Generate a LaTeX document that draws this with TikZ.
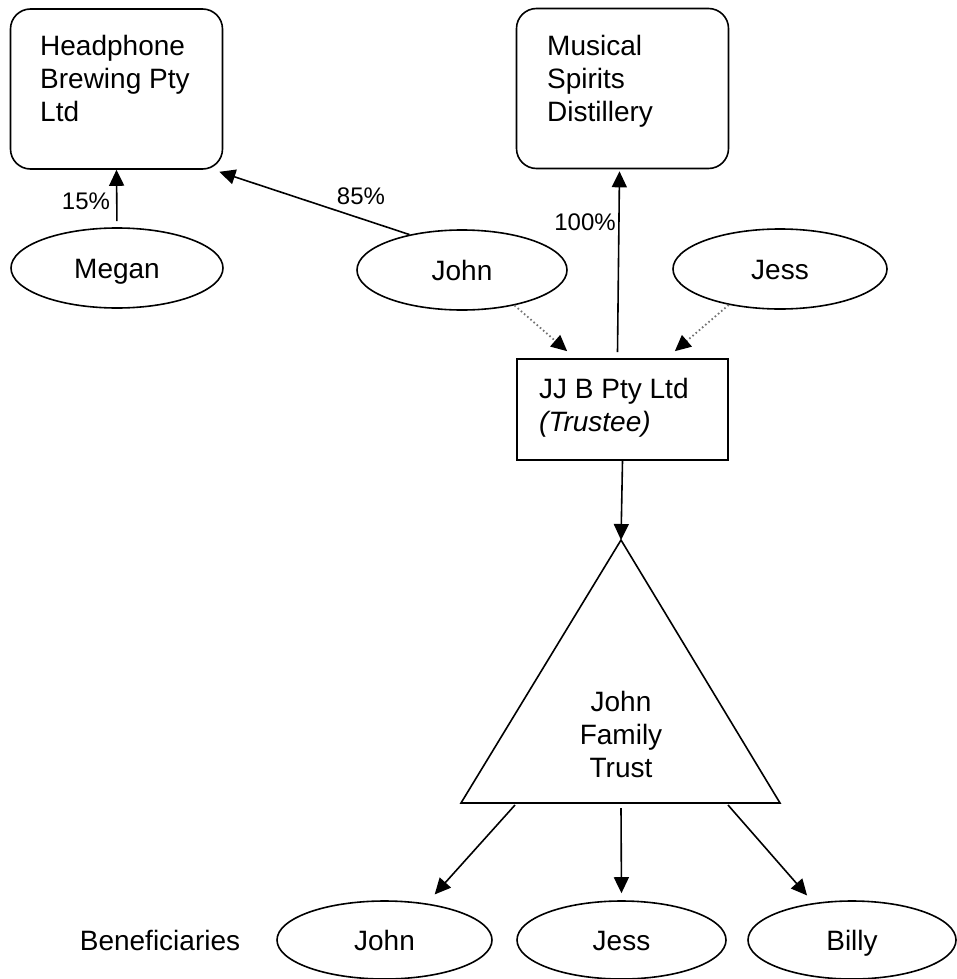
\documentclass[tikz,border=0pt]{standalone}
\usepackage{fontspec}
\setmainfont{Liberation Sans}
\usetikzlibrary{shapes.geometric,arrows.meta}

\tikzset{
  txt/.style={font=\fontsize{28}{33}\selectfont, inner sep=0pt, align=left},
  pct/.style={font=\fontsize{24}{28}\selectfont, inner sep=0pt},
  rbox/.style={draw, line width=1.6pt, rounded corners=20pt, inner sep=0pt,
               minimum width=212pt, minimum height=160pt},
  pbox/.style={draw, line width=1.6pt, inner sep=0pt,
               minimum width=211pt, minimum height=101pt},
  person/.style={draw, ellipse, line width=1.6pt, inner sep=0pt,
                 font=\fontsize{28}{33}\selectfont,
                 text height=20pt, text depth=0pt,
                 minimum width=212pt, minimum height=80pt},
  link/.style={line width=1.6pt, -{Triangle[length=16pt,width=15pt]}},
  control/.style={line width=1.8pt, black!55, dash pattern=on 1.6pt off 2.6pt,
                  -{Triangle[length=16pt,width=15pt,color=black]}}
}

\begin{document}
\begin{tikzpicture}[x=1pt,y=-1pt]
\useasboundingbox (0,0) rectangle (956,979);

% companies
\node[rbox] (hb) at (116.5,89) {};
\node[txt, anchor=north west] (hbtext) at (40,35) {Headphone\\Brewing Pty\\Ltd};
\node[rbox] (ms) at (622.5,88.5) {};
\node[txt, anchor=north west] (mstext) at (547,35) {Musical\\Spirits\\Distillery};

% shareholders
\node[person] (megan) at (117,268) {Megan};
\node[person, minimum width=210pt] (john) at (462,270) {John};
\node[person, minimum width=214pt] (jess) at (780,269) {Jess};

% trustee company
\node[pbox] (jjb) at (622.5,409.5) {};
\node[txt, anchor=north west] (jjbtext) at (539,378) {JJ B Pty Ltd\\\textit{(Trustee)}};

% the trust
\coordinate (apex) at (621,540);
\coordinate (bl) at (461,803);
\coordinate (br) at (780,803);
\draw[line width=1.6pt, line join=miter] (apex) -- (bl) -- (br) -- cycle;
\node[txt, align=center, anchor=north] (trust) at (621,691) {John\\Family\\Trust};
\coordinate (b1) at (515,805);
\coordinate (b2) at (621,808);
\coordinate (b3) at (728,805);

% beneficiaries
\node[txt] (benlbl) at (160,940) {Beneficiaries};
\node[person, minimum width=215pt, minimum height=78pt] (bjohn) at (384.5,940) {John};
\node[person, minimum width=209pt, minimum height=78pt] (bjess) at (621.5,940) {Jess};
\node[person, minimum width=208pt, minimum height=78pt] (bbilly) at (852,940) {Billy};

% ownership links
\draw[link, shorten <=6pt] (megan.north) -- (hb.south);
\node[pct] (p15) at (86,201) {15\%};
\draw[link] (john.146) -- ([xshift=-4pt,yshift=-2pt]hb.south east);
\node[pct] (p85) at (361,196) {85\%};
\draw[link] ([xshift=-5pt,yshift=6pt]jjb.north) -- ([xshift=-3pt,yshift=-2pt]ms.south);
\node[pct] (p100) at (585,222) {100\%};

% directors of the trustee
\draw[control] (john.-34) -- ([xshift=51pt,yshift=7pt]jjb.north west);
\draw[control] (jess.215) -- ([xshift=-54pt,yshift=7pt]jjb.north east);

% trustee to trust
\draw[link] (jjb.south) -- (apex);

% trust to beneficiaries
\draw[link, shorten >=12pt] (b1) -- (bjohn.41);
\draw[link, shorten >=7pt] (b2) -- (bjess.north);
\draw[link, shorten >=10pt] (b3) -- (bbilly.136);
\end{tikzpicture}
\end{document}
